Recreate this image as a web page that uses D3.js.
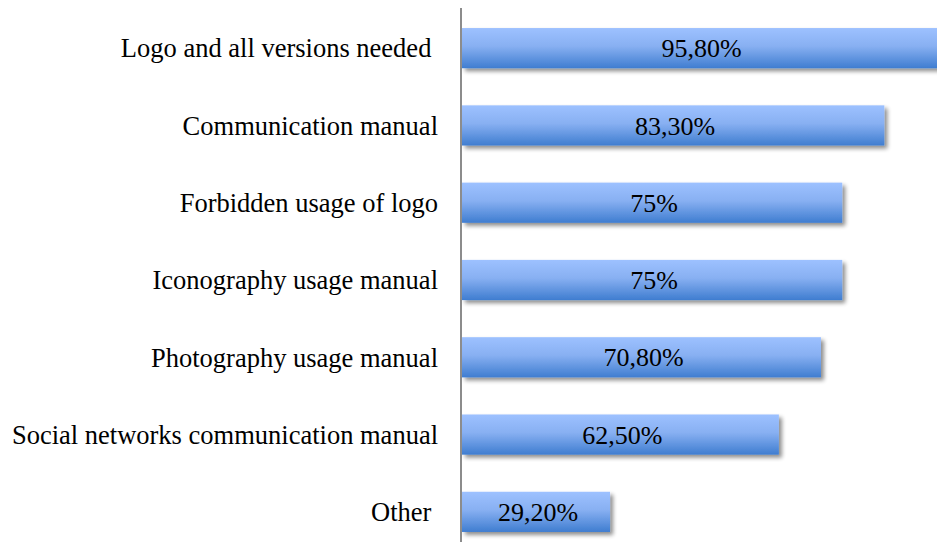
<!DOCTYPE html>
<html>
<head>
<meta charset="utf-8">
<script src="https://cdn.jsdelivr.net/npm/d3@7"></script>
<style>
  body { margin: 0; background: #fff; }
  svg { display: block; }
</style>
</head>
<body>
<div class="chart"></div>
<script>
  // categories and values (percent)
  var categories = ["Logo and all versions needed ", "Communication manual", "Forbidden usage of logo",
    "Iconography usage manual", "Photography usage manual", "Social networks communication manual", "Other "];
  var values = [95.8, 83.3, 75, 75, 70.8, 62.5, 29.2];
  var valueLabels = ["95,80%", "83,30%", "75%", "75%", "70,80%", "62,50%", "29,20%"];

  var w = 937, h = 542;
  var svg = d3.select(".chart").append("svg")
    .attr("width", w)
    .attr("height", h);

  var x = d3.scaleLinear().domain([0, 100]).range([462, 969]);
  var y = d3.scaleBand().domain(categories).range([9.5, 550.5]).paddingInner(0.48).paddingOuter(0.24);

  var defs = svg.append("defs");
  var grad = defs.append("linearGradient").attr("id", "barGrad")
    .attr("x1", 0).attr("y1", 0).attr("x2", 0).attr("y2", 1);
  grad.append("stop").attr("offset", "0%").attr("stop-color", "#9dc1ff");
  grad.append("stop").attr("offset", "45%").attr("stop-color", "#88b0f2");
  grad.append("stop").attr("offset", "100%").attr("stop-color", "#3f7dd0");

  var shadow = defs.append("filter").attr("id", "shadow")
    .attr("x", "-5%").attr("y", "-20%").attr("width", "115%").attr("height", "160%");
  shadow.append("feGaussianBlur").attr("in", "SourceAlpha").attr("stdDeviation", 2.2).attr("result", "blur");
  shadow.append("feOffset").attr("in", "blur").attr("dx", 3).attr("dy", 3).attr("result", "off");
  shadow.append("feComponentTransfer").attr("in", "off").attr("result", "soft")
    .append("feFuncA").attr("type", "linear").attr("slope", 0.45);
  var merge = shadow.append("feMerge");
  merge.append("feMergeNode").attr("in", "soft");
  merge.append("feMergeNode").attr("in", "SourceGraphic");

  var data = categories.map(function(c, i) { return {cat: c, v: values[i], label: valueLabels[i]}; });

  // bars
  svg.selectAll(".bar")
    .data(data)
    .enter()
    .append("rect")
    .attr("class", "bar")
    .attr("x", x(0))
    .attr("y", function(d) { return y(d.cat); })
    .attr("width", function(d) { return x(d.v) - x(0); })
    .attr("height", y.bandwidth())
    .attr("fill", "url(#barGrad)")
    .style("filter", "url(#shadow)");

  // value labels, centred on visible part of bar
  svg.selectAll(".val")
    .data(data)
    .enter()
    .append("text")
    .attr("class", "val")
    .attr("x", function(d) { return (x(0) + Math.min(x(d.v), w)) / 2 + 2; })
    .attr("y", function(d) { return y(d.cat) + y.bandwidth() / 2; })
    .attr("dy", "0.35em")
    .attr("text-anchor", "middle")
    .style("font-family", "'Liberation Serif', 'Times New Roman', serif")
    .style("font-size", "26px")
    .attr("fill", "#000")
    .text(function(d) { return d.label; });

  // category labels
  svg.selectAll(".cat")
    .data(data)
    .enter()
    .append("text")
    .attr("class", "cat")
    .attr("x", 438)
    .attr("y", function(d) { return y(d.cat) + y.bandwidth() / 2; })
    .attr("dy", "0.35em")
    .attr("text-anchor", "end")
    .style("font-family", "'Liberation Serif', 'Times New Roman', serif")
    .style("font-size", "26.5px")
    .style("white-space", "pre")
    .attr("fill", "#000")
    .text(function(d) { return d.cat; });

  // vertical axis line
  svg.append("line")
    .attr("x1", 461).attr("x2", 461)
    .attr("y1", 8).attr("y2", h)
    .attr("stroke", "#8c8c8c")
    .attr("stroke-width", 2);
</script>
</body>
</html>
